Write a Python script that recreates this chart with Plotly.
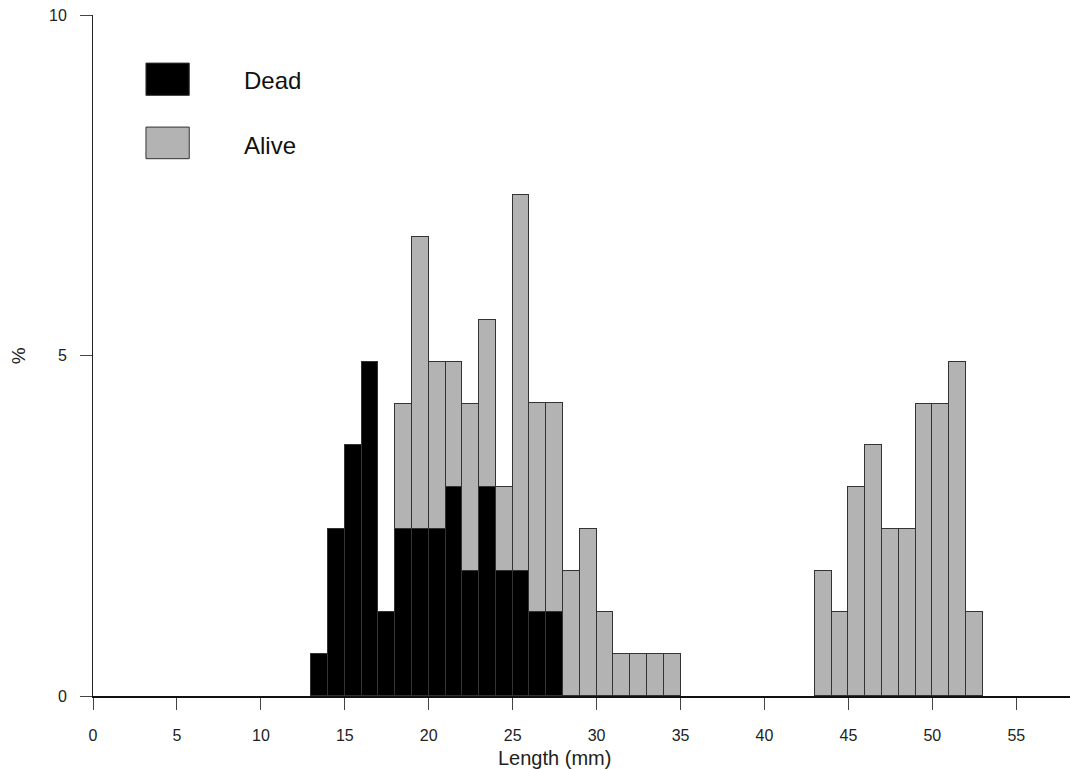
import plotly.graph_objects as go

# Bin start (mm), 1-mm bins
dead_bins = [13, 14, 15, 16, 17, 18, 19, 20, 21, 22, 23, 24, 25, 26, 27]
dead_pct = [0.61, 2.45, 3.68, 4.91, 1.23, 2.45, 2.45, 2.45, 3.07, 1.84, 3.07, 1.84, 1.84, 1.23, 1.23]

alive_bins = [18, 19, 20, 21, 22, 23, 24, 25, 26, 27, 28, 29, 30, 31, 32, 33, 34,
              43, 44, 45, 46, 47, 48, 49, 50, 51, 52]
alive_pct = [1.84, 4.29, 2.45, 1.84, 2.45, 2.45, 1.23, 5.52, 3.07, 3.07, 1.84, 2.45, 1.23, 0.61, 0.61, 0.61, 0.61,
             1.84, 1.23, 3.07, 3.68, 2.45, 2.45, 4.29, 4.29, 4.91, 1.23]

x_ticks = [0, 5, 10, 15, 20, 25, 30, 35, 40, 45, 50, 55]
y_ticks = [0, 5, 10]

FONT = "Liberation Sans, Arial, Helvetica, sans-serif"
EDGE = "#333333"
TXT = "#222222"

fig = go.Figure()
fig.add_trace(go.Bar(
    x=[b + 0.5 for b in dead_bins], y=dead_pct, width=1, name="Dead",
    marker=dict(color="#000000", line=dict(color=EDGE, width=1)), showlegend=False))
fig.add_trace(go.Bar(
    x=[b + 0.5 for b in alive_bins], y=alive_pct, width=1, name="Alive",
    marker=dict(color="#B3B3B3", line=dict(color=EDGE, width=1)), showlegend=False))

fig.update_layout(
    width=1070, height=770,
    margin=dict(l=93, r=0, t=15, b=74, pad=0),
    barmode="stack", bargap=0,
    plot_bgcolor="white", paper_bgcolor="white",
    font=dict(family=FONT, color=TXT),
    xaxis=dict(range=[0, 58.2], tickvals=x_ticks, ticktext=[str(v) for v in x_ticks],
               automargin=False,
               showgrid=False, zeroline=False, showline=True, linecolor="#111111", linewidth=2,
               ticks="outside", ticklen=12, tickcolor="#444444", tickwidth=1,
               tickfont=dict(size=16, family=FONT, color=TXT), ticklabelstandoff=12),
    yaxis=dict(range=[0, 10], tickvals=y_ticks, ticktext=[str(v) for v in y_ticks],
               automargin=False,
               showgrid=False, zeroline=False, showline=True, linecolor="#222222", linewidth=1,
               ticks="outside", ticklen=12, tickcolor="#444444", tickwidth=1,
               tickfont=dict(size=16, family=FONT, color=TXT), ticklabelstandoff=10),
    showlegend=False,
)

# axis titles
fig.add_annotation(x=27.5, xref="x", y=-0.0915, yref="paper", text="Length (mm)", showarrow=False,
                   xanchor="center", yanchor="middle", font=dict(size=20, family=FONT, color=TXT))
fig.add_annotation(x=-0.076, xref="paper", y=0.5, yref="paper", text="%", showarrow=False, textangle=-90,
                   xanchor="center", yanchor="middle", font=dict(size=19, family=FONT, color=TXT))

# legend
fig.add_shape(type="rect", xref="paper", yref="paper", x0=0.0542, x1=0.0985, y0=0.882, y1=0.9294,
              fillcolor="#000000", line=dict(color=EDGE, width=1))
fig.add_shape(type="rect", xref="paper", yref="paper", x0=0.0542, x1=0.0985, y0=0.789, y1=0.8354,
              fillcolor="#B3B3B3", line=dict(color=EDGE, width=1))
fig.add_annotation(x=0.1522, xref="paper", y=0.9032, yref="paper", text="Dead", showarrow=False,
                   xanchor="left", yanchor="middle", font=dict(size=24, family=FONT, color="#111111"))
fig.add_annotation(x=0.1522, xref="paper", y=0.809, yref="paper", text="Alive", showarrow=False,
                   xanchor="left", yanchor="middle", font=dict(size=24, family=FONT, color="#111111"))

fig.write_html("out.html", config={"displayModeBar": False},
               post_script="document.body.style.margin='0';document.body.style.padding='0';"
                           "document.body.style.overflow='hidden';")
